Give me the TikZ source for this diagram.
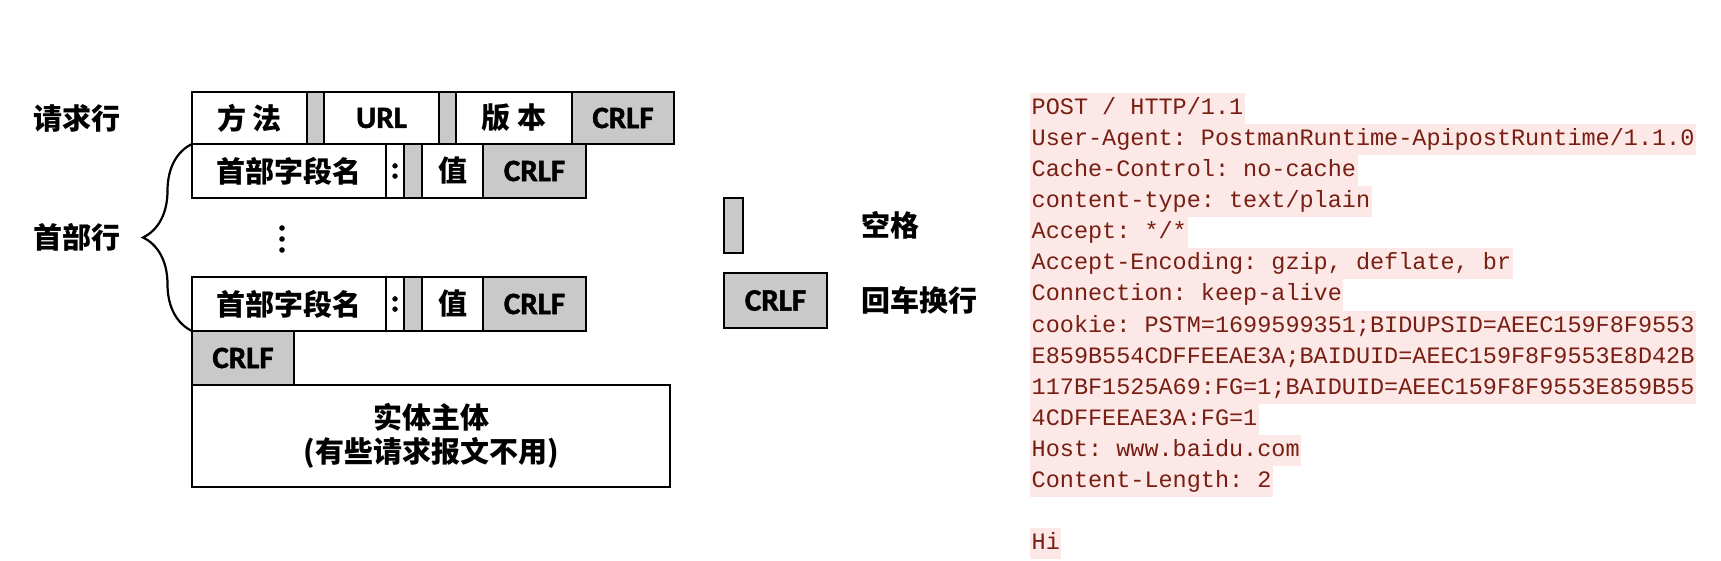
\documentclass[tikz,border=0pt]{standalone}
\usepackage{fontspec}
\setmainfont{Carlito}[BoldFont={Carlito Bold}, BoldFeatures={FakeBold=1.6}]
\setmonofont{Liberation Mono}
\newfontfamily\cjk{Noto Sans CJK SC}
\usetikzlibrary{positioning,decorations.pathreplacing}
\definecolor{gapgray}{RGB}{201,201,201}
\definecolor{codebg}{RGB}{252,233,231}
\definecolor{codefg}{RGB}{120,30,18}

\begin{document}
\begin{tikzpicture}[x=1pt,y=1pt,
cell/.style ={draw, line width=1.8pt, inner sep=0pt, outer sep=0pt,
  minimum height=52pt, font=\cjk\bfseries\fontsize{29}{34}\selectfont},
gap/.style ={cell, fill=gapgray, minimum width=17pt},
crlf/.style ={cell, fill=gapgray, minimum width=102pt,
  font=\bfseries\fontsize{31}{34}\selectfont},
latin/.style ={font=\bfseries\fontsize{31}{34}\selectfont},
side/.style ={font=\cjk\bfseries\fontsize{29}{34}\selectfont, inner sep=0pt},
codeline/.style ={anchor=west, fill=codebg, text=codefg, inner xsep=1.5pt,
  inner ysep=0pt, minimum height=31pt, text height=17pt, text depth=5pt,
  font=\ttfamily\fontsize{23.5}{31}\selectfont}]
\fill[white] (0,0) rectangle (1721,-561);
\useasboundingbox (0,0) rectangle (1721,-561);

% request line
\node[cell, minimum width=115pt, anchor=north west] (m1) at (192,-92) {方 法};
\node[gap, right=0pt of m1] (g1) {};
\node[cell, latin, minimum width=115pt, right=0pt of g1] (m2) {URL};
\node[gap, right=0pt of m2] (g2) {};
\node[cell, minimum width=116pt, right=0pt of g2] (m3) {版 本};
\node[crlf, right=0pt of m3] (m4) {CRLF};
\node[side, left=71pt of m1] (rl) {请求行};

% header lines
\node[cell, minimum width=194pt, minimum height=54pt,
  below right=0pt of m1.south west] (h1) {首部字段名};
\node[cell, latin, minimum width=18pt, minimum height=54pt, right=0pt of h1] (h2) {:};
\node[gap, minimum width=18pt, minimum height=54pt, right=0pt of h2] (h3) {};
\node[cell, minimum width=61pt, minimum height=54pt, right=0pt of h3] (h4) {值};
\node[crlf, minimum width=103pt, minimum height=54pt, right=0pt of h4] (h5) {CRLF};

\foreach \dy in {228,239,250}
  \fill (282,-\dy) circle (2.8pt);

\node[cell, minimum width=194pt, minimum height=54pt,
  below right=79pt and 0pt of h1.south west] (k1) {首部字段名};
\node[cell, latin, minimum width=18pt, minimum height=54pt, right=0pt of k1] (k2) {:};
\node[gap, minimum width=18pt, minimum height=54pt, right=0pt of k2] (k3) {};
\node[cell, minimum width=61pt, minimum height=54pt, right=0pt of k3] (k4) {值};
\node[crlf, minimum width=103pt, minimum height=54pt, right=0pt of k4] (k5) {CRLF};

\draw[line width=2.2pt, decorate, decoration={brace, amplitude=49pt}]
  (k1.south west) -- (h1.north west);
\node[side, anchor=east] (hl) at (121,-237) {首部行};

% empty line and body
\node[crlf, minimum height=54pt, below right=0pt of k1.south west] (c0) {CRLF};
\node[cell, minimum width=478pt, minimum height=102pt,
  below right=0pt of c0.south west, align=center] (body)
  {实体主体\\(有些请求报文不用)};

% legend
\node[gap, minimum width=19pt, minimum height=55pt, anchor=north west] (ls) at (724,-198) {};
\node[crlf, minimum width=103pt, minimum height=55pt, anchor=north west] (lc) at (724,-273) {CRLF};
\node[side, right=118pt of ls] (lst) {空格};
\node[side, right=34pt of lc] (lct) {回车换行};

% sample request
\foreach \txt [count=\i] in {{POST / HTTP/1.1},
  {User-Agent: PostmanRuntime-ApipostRuntime/1.1.0},
  {Cache-Control: no-cache},
  {content-type: text/plain},
  {Accept: */*},
  {Accept-Encoding: gzip, deflate, br},
  {Connection: keep-alive},
  {cookie: PSTM=1699599351;BIDUPSID=AEEC159F8F9553},
  {E859B554CDFFEEAE3A;BAIDUID=AEEC159F8F9553E8D42B},
  {117BF1525A69:FG=1;BAIDUID=AEEC159F8F9553E859B55},
  {4CDFFEEAE3A:FG=1},
  {Host: www.baidu.com},
  {Content-Length: 2}}
  \node[codeline] (ln\i) at (1030,{-109-31*(\i-1)}) {\txt};
\node[codeline] (hi) at (1030,-543) {Hi};
\end{tikzpicture}
\end{document}
